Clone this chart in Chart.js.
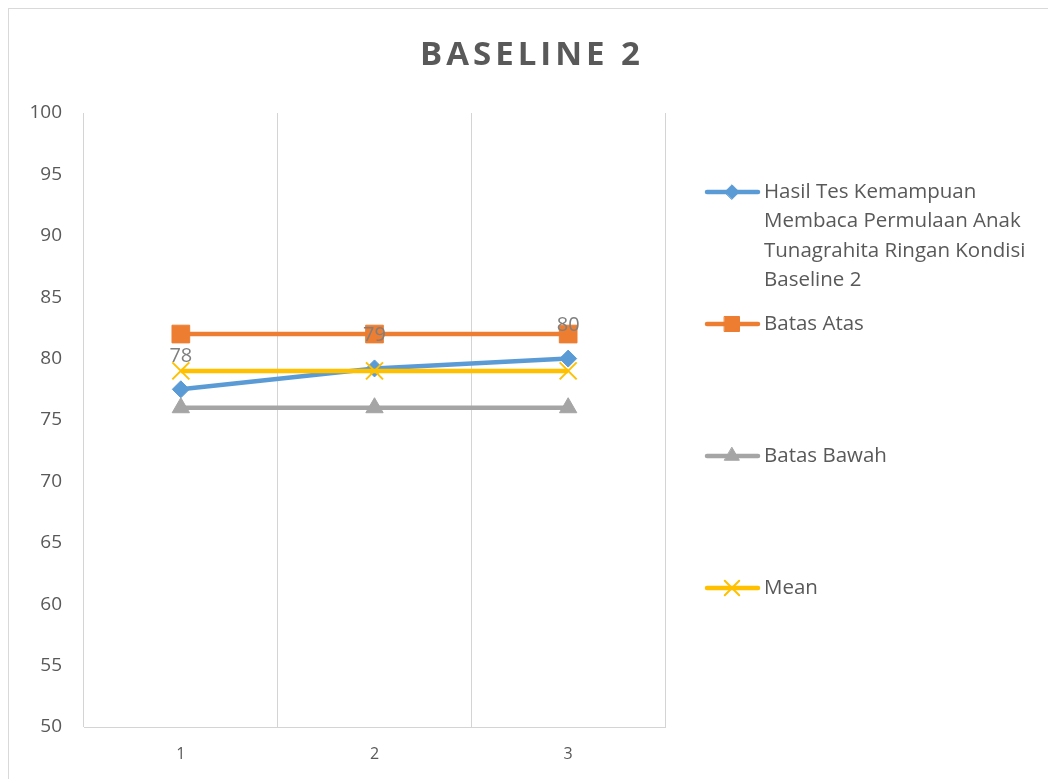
<!DOCTYPE html>
<html>
<head>
<meta charset="utf-8">
<title>BASELINE 2</title>
<script src="https://cdn.jsdelivr.net/npm/chart.js@4.4.1/dist/chart.umd.min.js"></script>
<style>
  html, body { margin: 0; padding: 0; background: #ffffff; }
  canvas { display: block; }
</style>
</head>
<body>
<canvas id="chart" width="1048" height="779"></canvas>
<script>
// Chart data
const categories = ['1', '2', '3'];
const hasilTes = [77.5, 79.2, 80];
const batasAtas = [82, 82, 82];
const batasBawah = [76, 76, 76];
const meanValues = [79, 79, 79];
const yMin = 50;
const yMax = 100;
const yStep = 5;
const chartTitle = 'BASELINE 2';
const seriesNames = [
  ['Hasil Tes Kemampuan', 'Membaca Permulaan Anak', 'Tunagrahita Ringan Kondisi', 'Baseline 2'],
  ['Batas Atas'],
  ['Batas Bawah'],
  ['Mean']
];

const FONT = '"Open Sans", "Liberation Sans", sans-serif';
const TEXT_GREY = '#595959';

// Frame, title, value labels and legend on the right
const decorations = {
  id: 'decorations',
  beforeDraw(chart) {
    const ctx = chart.ctx;
    ctx.save();
    ctx.fillStyle = '#ffffff';
    ctx.fillRect(0, 0, chart.width, chart.height);
    ctx.strokeStyle = '#d9d9d9';
    ctx.lineWidth = 1;
    ctx.strokeRect(8.5, 8.5, chart.width, chart.height);
    ctx.font = 'bold 33px ' + FONT;
    if ('letterSpacing' in ctx) ctx.letterSpacing = '4px';
    ctx.fillStyle = TEXT_GREY;
    ctx.textAlign = 'center';
    ctx.textBaseline = 'middle';
    ctx.fillText(chartTitle, 532, 56);
    ctx.restore();
  },
  afterDatasetsDraw(chart) {
    const ctx = chart.ctx;
    ctx.save();
    // value labels above the first series
    const meta = chart.getDatasetMeta(0);
    const values = chart.data.datasets[0].data;
    ctx.font = '20px ' + FONT;
    ctx.fillStyle = '#7f7f7f';
    ctx.textAlign = 'center';
    ctx.textBaseline = 'middle';
    meta.data.forEach((pt, i) => {
      ctx.fillText(Math.round(values[i]).toString(), pt.x, pt.y - 33);
    });

    // legend
    const rows = [192, 324, 456, 588];
    chart.data.datasets.forEach((ds, i) => {
      const y = rows[i];
      ctx.strokeStyle = ds.borderColor;
      ctx.lineWidth = 4.5;
      ctx.lineCap = 'round';
      ctx.beginPath();
      ctx.moveTo(707, y);
      ctx.lineTo(758, y);
      ctx.stroke();
      ctx.fillStyle = ds.pointBackgroundColor;
      ctx.strokeStyle = ds.pointBorderColor;
      ctx.lineWidth = ds.pointBorderWidth;
      Chart.helpers.drawPoint(ctx, {
        pointStyle: ds.pointStyle,
        radius: ds.pointRadius * 0.85,
        rotation: 0,
        borderWidth: ds.pointBorderWidth
      }, 732, y);
      ctx.fillStyle = TEXT_GREY;
      ctx.font = '20.5px ' + FONT;
      ctx.textAlign = 'left';
      ctx.textBaseline = 'middle';
      seriesNames[i].forEach((line, k) => {
        ctx.fillText(line, 764, y + k * 29.5);
      });
    });
    ctx.restore();
  }
};

const makeSeries = (label, data, color, style, radius, order, borderW) => ({
  label,
  data,
  borderColor: color,
  backgroundColor: color,
  borderWidth: 4.5,
  pointStyle: style,
  pointRadius: radius,
  pointBackgroundColor: color,
  pointBorderColor: color,
  pointBorderWidth: borderW,
  tension: 0,
  fill: false,
  order
});

new Chart(document.getElementById('chart'), {
  type: 'line',
  data: {
    labels: categories,
    datasets: [
      makeSeries(seriesNames[0].join(' '), hasilTes, '#5B9BD5', 'rectRot', 8.5, 3, 1),
      makeSeries(seriesNames[1][0], batasAtas, '#ED7D31', 'rect', 12.5, 2, 1),
      makeSeries(seriesNames[2][0], batasBawah, '#A5A5A5', 'triangle', 10, 1, 1),
      makeSeries(seriesNames[3][0], meanValues, '#FFC000', 'crossRot', 12, 0, 2)
    ]
  },
  options: {
    responsive: false,
    devicePixelRatio: 1,
    animation: false,
    events: [],
    layout: { padding: { top: 113, right: 383, bottom: 0, left: 0 } },
    plugins: {
      legend: { display: false },
      title: { display: false },
      tooltip: { enabled: false }
    },
    scales: {
      x: {
        type: 'category',
        offset: true,
        grid: { display: true, offset: true, color: '#d4d4d4', lineWidth: 1, drawTicks: false },
        border: { display: true, color: '#d4d4d4', width: 1 },
        ticks: { color: TEXT_GREY, font: { family: FONT, size: 16 }, padding: 18, maxRotation: 0 },
        afterFit(scale) { scale.height = 52; }
      },
      y: {
        min: yMin,
        max: yMax,
        grid: { display: false, drawTicks: false },
        border: { display: false },
        ticks: { stepSize: yStep, color: TEXT_GREY, font: { family: FONT, size: 19 }, padding: 22 },
        afterFit(scale) { scale.width = 84; }
      }
    }
  },
  plugins: [decorations]
});
</script>
</body>
</html>
